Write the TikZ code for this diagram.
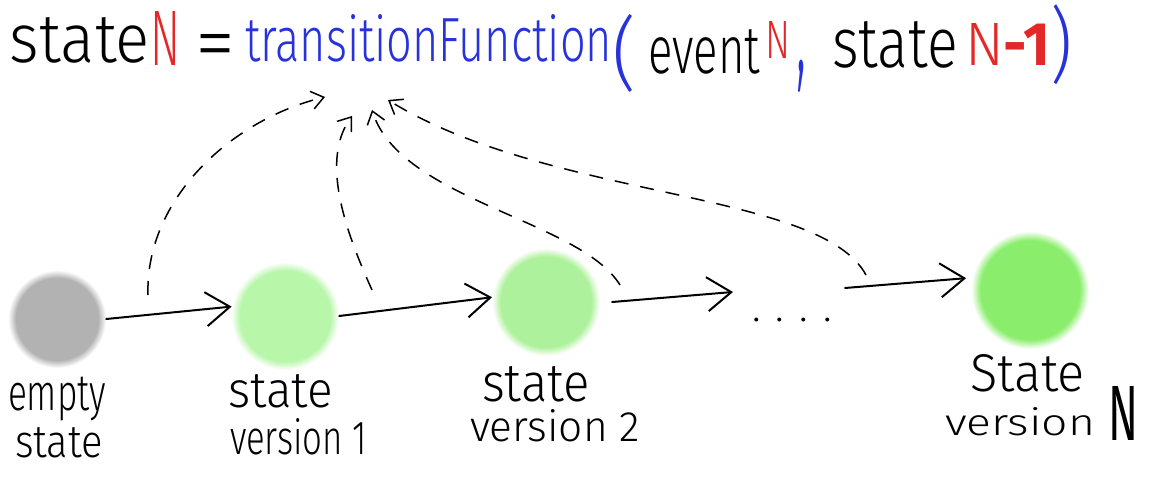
\documentclass[tikz,border=0pt]{standalone}
\usepackage{fontspec}
\newfontfamily\hand{Fira Sans Light}
\newfontfamily\handb{Fira Sans}
\usetikzlibrary{arrows.meta}
\definecolor{gray0}{RGB}{178,178,178}
\definecolor{gacol}{RGB}{184,246,170}
\definecolor{gbcol}{RGB}{174,241,156}
\definecolor{gncol}{RGB}{138,238,108}
\definecolor{tblue}{RGB}{40,50,220}
\definecolor{tred}{RGB}{228,40,40}
\pgfdeclareradialshading{softgray}{\pgfpoint{0bp}{0bp}}{color(0bp)=(gray0); color(21bp)=(gray0); color(25bp)=(white); color(50bp)=(white)}
\pgfdeclareradialshading{softga}{\pgfpoint{0bp}{0bp}}{color(0bp)=(gacol); color(21bp)=(gacol); color(25bp)=(white); color(50bp)=(white)}
\pgfdeclareradialshading{softgb}{\pgfpoint{0bp}{0bp}}{color(0bp)=(gbcol); color(21bp)=(gbcol); color(25bp)=(white); color(50bp)=(white)}
\pgfdeclareradialshading{softgn}{\pgfpoint{0bp}{0bp}}{color(0bp)=(gncol); color(21bp)=(gncol); color(25bp)=(white); color(50bp)=(white)}
\newcommand{\hfit}[3]{\resizebox{#1pt}{#2pt}{#3}}
\newcommand{\hfitt}[3]{\resizebox*{#1pt}{#2pt}{#3}}
\tikzset{
  tx/.style={inner sep=0pt, outer sep=0pt, anchor=south west, font=\hand},
  blob/.style={circle, draw=none, inner sep=0pt, shade, shading=#1},
  sld/.style={draw, line width=2pt, line cap=round, -{Straight Barb[length=24pt,width=34pt,line width=2pt]}},
  dsh/.style={draw, line width=1.5pt, dash pattern=on 14pt off 12pt, -{Straight Barb[length=12pt,width=18pt,line width=1.5pt]}}
}
\begin{document}
\begin{tikzpicture}[x=1pt,y=-1pt]
\fill[white] (0,0) rectangle (1149,478);
\useasboundingbox (0,0) rectangle (1149,478);
% title
\node[tx, text=black] (ti1) at (10,63) {\hfit{140}{45}{state}};
\node[tx, text=tred] (ti2) at (150,66) {\hfit{30}{54}{N}};
\node[tx, anchor=north west] (ti3) at (195,34) {\resizebox{40pt}{!}{=}};
\node[tx, text=tblue] (ti4) at (245,62) {\hfit{367}{47}{transitionFunction}};
\node[tx, anchor=north west, text=tblue] (ti5) at (612,14) {\hfitt{24}{78}{(}};
\node[tx, text=black] (ti6) at (648,74) {\hfit{112}{44}{event}};
\node[tx, text=tred] (ti7) at (765,59) {\hfit{25}{37}{N}};
\node[tx, anchor=north west, text=tblue] (ti8) at (796,60) {\hfitt{10}{32}{,}};
\node[tx, text=black] (ti9) at (832,68) {\hfit{126}{46}{state}};
\node[tx, text=tred] (ti10) at (965,66) {\hfit{85}{42}{N{\handb\bfseries -1}}};
\node[tx, anchor=north west, text=tblue] (ti11) at (1050,5) {\hfitt{22}{80}{)}};
% states
\node[blob=softgray, minimum size=98pt] (g0) at (57,319) {};
\node[blob=softga, minimum size=108pt] (g1) at (285,316) {};
\node[blob=softgb, minimum size=108pt] (g2) at (546,302) {};
\node[blob=softgn, minimum size=118pt] (gN) at (1030,290) {};
% labels
\node[tx, anchor=north west] (le1) at (8,377) {\hfitt{98}{44}{empty}};
\node[tx] (le2) at (15,458) {\hfit{88}{30}{state}};
\node[tx] (l11) at (228,408) {\hfit{105}{33}{state}};
\node[tx] (l12) at (230,455) {\hfit{137}{36}{version 1}};
\node[tx] (l21) at (482,402) {\hfit{108}{35}{state}};
\node[tx] (l22) at (470,442) {\hfit{170}{32}{version 2}};
\node[tx] (lN1) at (970,392) {\hfit{115}{37}{State}};
\node[tx] (lN2) at (945,436) {\hfit{150}{28}{version}};
\node[tx] (lN3) at (1108,440) {\hfit{30}{54}{\handb N}};
\node[tx] (dots) at (752,322) {\resizebox{80pt}{!}{. . . .}};
% solid arrows
\coordinate (d1) at (733,292);
\coordinate (d2) at (845,288);
\draw[sld] (g0.east) -- (g1.170);
\draw[sld] (g1.east) -- (g2.175);
\draw[sld] ([xshift=12pt]g2.east) -- (d1);
\draw[sld, shorten >=6pt] (d2) -- (gN.168);
% dashed arrows to the formula
\coordinate (s1) at (148,295);
\coordinate (s2) at (372,290);
\coordinate (s3) at (620,285);
\coordinate (s4) at (866,275);
\coordinate (a1) at (325,97);
\coordinate (a2) at (352,116);
\coordinate (a3) at (372,110);
\coordinate (a4) at (388,100);
\draw[dsh] (s1) .. controls (145,200) and (230,120) .. (a1);
\draw[dsh] (s2) .. controls (345,230) and (320,160) .. (a2);
\draw[dsh] (s3) .. controls (580,220) and (400,200) .. (a3);
\draw[dsh] (s4) .. controls (820,190) and (550,200) .. (a4);
\end{tikzpicture}
\end{document}
